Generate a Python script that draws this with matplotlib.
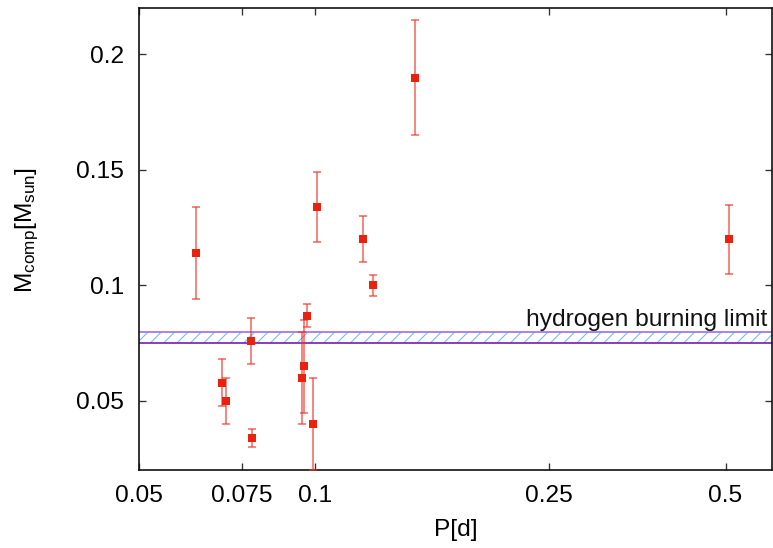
import matplotlib
matplotlib.use("Agg")
import matplotlib.pyplot as plt
from matplotlib.ticker import FixedLocator, FixedFormatter, NullLocator

plt.rcParams['font.family'] = ['Liberation Sans', 'DejaVu Sans']
plt.rcParams['mathtext.fontset'] = 'custom'
plt.rcParams['mathtext.rm'] = 'Liberation Sans'
plt.rcParams['mathtext.it'] = 'Liberation Sans:italic'
plt.rcParams['hatch.linewidth'] = 0.9

# data
period = [0.0626, 0.0693, 0.0704, 0.0776, 0.0779, 0.0950, 0.0955, 0.0969,
          0.0992, 0.1006, 0.1208, 0.1252, 0.1479, 0.506]
mass = [0.114, 0.058, 0.050, 0.076, 0.034, 0.060, 0.065, 0.087,
        0.040, 0.134, 0.120, 0.100, 0.190, 0.120]
mass_err = [0.020, 0.010, 0.010, 0.010, 0.004, 0.020, 0.020, 0.005,
            0.020, 0.015, 0.010, 0.0045, 0.025, 0.015]
hbl_low, hbl_high = 0.075, 0.080
xticks = [0.05, 0.075, 0.1, 0.25, 0.5]
xtick_labels = ['0.05', '0.075', '0.1', '0.25', '0.5']
yticks = [0.05, 0.1, 0.15, 0.2]
ytick_labels = ['0.05', '0.1', '0.15', '0.2']
xlim = (0.05, 0.6)
ylim = (0.02, 0.22)

DPI = 80
fig = plt.figure(figsize=(773 / DPI, 548 / DPI), dpi=DPI)
ax = fig.add_axes([0.1794, 0.1418, 0.8193, 0.8431])
ax.set_xscale('log')
ax.set_xlim(*xlim)
ax.set_ylim(*ylim)

# hydrogen burning limit band
ax.fill_between(xlim, hbl_low, hbl_high, facecolor='none', hatch='//',
                edgecolor='#62bcf0', linewidth=0, zorder=1)
ax.axhline(hbl_high, color='#a477ea', lw=1.6, zorder=2)
ax.axhline(hbl_low, color='#7a2cbc', lw=1.6, zorder=2)
ax.text(0.993, hbl_high + 0.0003, 'hydrogen burning limit',
        transform=ax.get_yaxis_transform(), ha='right', va='bottom',
        fontsize=22, color='#111111', zorder=3)

# data with error bars
ax.errorbar(period, mass, yerr=mass_err, fmt='none', ecolor='#ee3328',
            alpha=0.75, elinewidth=1.4, capsize=3.2, capthick=1.4, zorder=3)
ax.plot(period, mass, 's', color='#e8220f', markersize=6.8, zorder=4,
        markeredgewidth=0)

ax.xaxis.set_major_locator(FixedLocator(xticks))
ax.xaxis.set_major_formatter(FixedFormatter(xtick_labels))
ax.xaxis.set_minor_locator(NullLocator())
ax.set_yticks(yticks)
ax.set_yticklabels(ytick_labels)
ax.tick_params(axis='both', which='major', direction='in', length=6, width=1.2,
               labelsize=22, top=True, right=True, color='#333333')
ax.tick_params(axis='x', pad=13)
ax.tick_params(axis='y', pad=13)

for s in ax.spines.values():
    s.set_linewidth(1.5)
    s.set_color('#111111')

ax.set_xlabel('P[d]', fontsize=22)
ax.set_ylabel(r'M$_{\rm comp}$[M$_{\rm sun}$]', fontsize=22)
ax.xaxis.set_label_coords(0.5, -0.105)
ax.xaxis.label.set_va('top')
ax.yaxis.set_label_coords(-0.155, 0.52)

fig.savefig('out.png', dpi=DPI)
